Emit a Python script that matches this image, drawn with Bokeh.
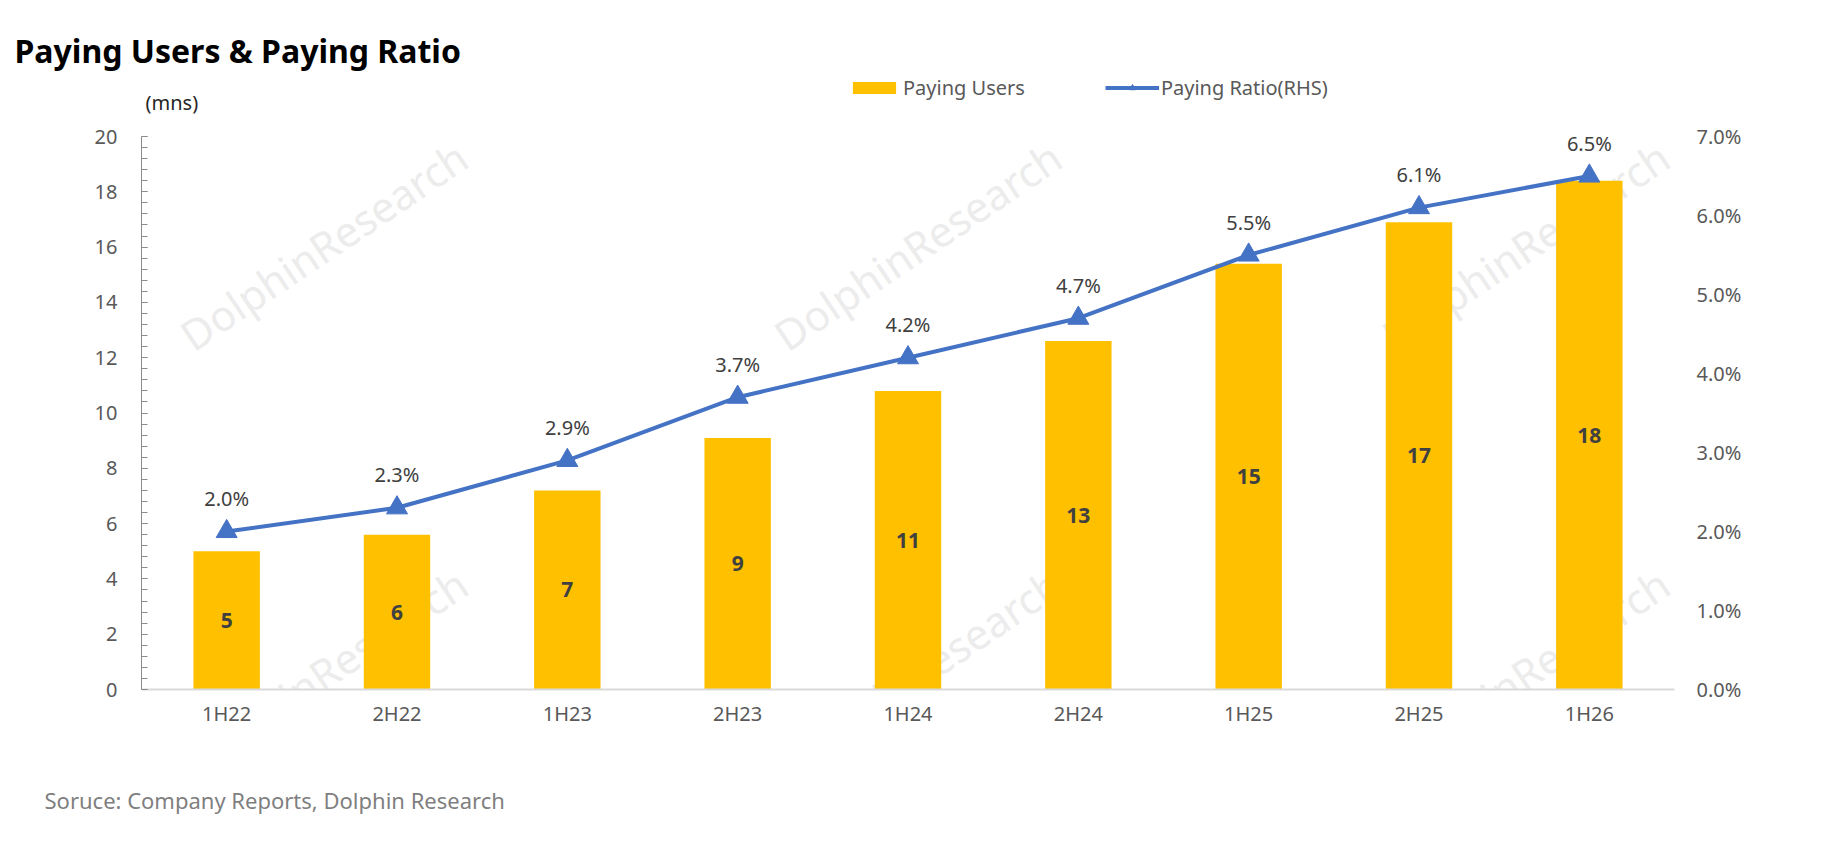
from bokeh.plotting import figure
from bokeh.embed import file_html
from bokeh.resources import INLINE
from bokeh.models import (ColumnDataSource, FactorRange, Range1d, LinearAxis,
                          SingleIntervalTicker, PrintfTickFormatter, Label,
                          Legend, LegendItem, Title)
from bokeh.core.properties import value

periods = ["1H22", "2H22", "1H23", "2H23", "1H24", "2H24", "1H25", "2H25", "1H26"]
paying_users = [5.0, 5.6, 7.2, 9.1, 10.8, 12.6, 15.4, 16.9, 18.4]   # mns
paying_ratio = [2.0, 2.3, 2.9, 3.7, 4.2, 4.7, 5.5, 6.1, 6.5]        # %
users_max, ratio_max = 20, 7

FONT = "Noto Sans"
W, H = 1808, 844
LEFT, RIGHT, TOP, BOTTOM = 141, 134, 72, 155
AXIS_TOP = 136          # where the value axes end (figure px)
BAR = "#FFC000"
LINE = "#4472C4"

# the frame reaches above the axes so the legend can sit inside it
stretch = (H - BOTTOM - TOP) / (H - BOTTOM - AXIS_TOP)


# frame-relative screen units from figure px
def sx(x):
    return x - LEFT


def sy(y):
    return (H - BOTTOM) - y


src = ColumnDataSource(dict(
    period=periods,
    users=paying_users,
    mid=[u / 2 for u in paying_users],
    users_lbl=[f"{u:.0f}" for u in paying_users],
    ratio=paying_ratio,
    ratio_lbl=[f"{r:.1f}%" for r in paying_ratio],
))

p = figure(width=W, height=H, x_range=FactorRange(factors=periods, range_padding=0),
           y_range=Range1d(0, users_max * stretch), output_backend="svg",
           toolbar_location=None, title_location=None,
           min_border_left=LEFT, min_border_right=RIGHT, min_border_top=TOP,
           min_border_bottom=BOTTOM)
p.extra_y_ranges = {"right": Range1d(0, ratio_max * stretch)}
p.outline_line_color = None
p.xgrid.visible = False
p.ygrid.visible = False
p.background_fill_color = "white"
p.border_fill_color = "white"

# left axis
ya = p.yaxis[0]
ya.bounds = (0, users_max)
ya.ticker = SingleIntervalTicker(interval=2, num_minor_ticks=5)
ya.axis_line_color = "#8c8c8c"
ya.major_tick_line_color = "#8c8c8c"
ya.minor_tick_line_color = "#8c8c8c"
ya.major_tick_in = 6
ya.major_tick_out = 0
ya.minor_tick_in = 6
ya.minor_tick_out = 0
ya.major_label_standoff = 24
ya.major_label_text_font = FONT
ya.major_label_text_font_size = "20px"
ya.major_label_text_color = "#595959"

# right axis
ra = LinearAxis(y_range_name="right", ticker=SingleIntervalTicker(interval=1),
                formatter=PrintfTickFormatter(format="%.1f%%"), bounds=(0, ratio_max))
ra.axis_line_color = None
ra.major_tick_line_color = None
ra.minor_tick_line_color = None
ra.major_tick_out = 0
ra.major_label_standoff = 18
ra.major_label_text_font = FONT
ra.major_label_text_font_size = "20px"
ra.major_label_text_color = "#595959"
p.add_layout(ra, "right")

# bottom axis
xa = p.xaxis[0]
xa.axis_line_color = "#d9d9d9"
xa.axis_line_width = 2
xa.major_tick_line_color = None
xa.minor_tick_line_color = None
xa.major_label_standoff = 4
xa.major_label_text_font = FONT
xa.major_label_text_font_size = "20px"
xa.major_label_text_color = "#595959"

# watermarks
for cx, cy in [(323, 245), (917, 245), (1525, 245), (323, 672), (917, 672), (1525, 672)]:
    p.add_layout(Label(x=sx(cx), y=sy(cy), x_units="screen", y_units="screen",
                       text="DolphinResearch", angle=34, angle_units="deg",
                       text_align="center", text_baseline="middle",
                       text_font=FONT, text_font_size="42px", text_color="#ececec",
                       level="underlay"))

bars = p.vbar(x="period", top="users", width=0.39, source=src,
              fill_color=BAR, line_color=None)
p.text(x="period", y="mid", text="users_lbl", source=src,
       text_align="center", text_baseline="middle",
       text_font=value(FONT), text_font_style="bold",
       text_font_size="21px", text_color="#404040")

line = p.line(x="period", y="ratio", source=src, y_range_name="right",
              line_color=LINE, line_width=4)
pts = p.scatter(x="period", y="ratio", source=src, y_range_name="right",
                marker="triangle", size=21, fill_color=LINE, line_color=LINE)
p.text(x="period", y="ratio", text="ratio_lbl", source=src, y_range_name="right",
       y_offset=-33, text_align="center", text_baseline="middle",
       text_font=value(FONT), text_font_size="20px", text_color="#404040")

# a tuple location puts the legend's lower-left corner there
legend = Legend(items=[LegendItem(label="Paying Users", renderers=[bars]),
                       LegendItem(label="Paying Ratio(RHS)", renderers=[line, pts])],
                orientation="horizontal", location=(sx(847), sy(101)),
                glyph_width=54, glyph_height=15, label_standoff=2, spacing=80,
                padding=0, margin=0, border_line_color=None,
                background_fill_alpha=0,
                label_text_font=FONT, label_text_font_size="20px",
                label_text_color="#595959")
p.add_layout(legend)

p.add_layout(Label(x=sx(145), y=sy(102), x_units="screen", y_units="screen",
                   text="(mns)", text_baseline="middle",
                   text_font=FONT, text_font_size="20px", text_color="#262626"))

p.add_layout(Title(text="Paying Users & Paying Ratio", align="left", offset=14 - LEFT,
                   text_font=FONT, text_font_size="32px", text_font_style="bold",
                   text_color="black", standoff=2), "above")

# blank spacer under the axis, then the source note
p.add_layout(Title(text=" ", text_font_size="10px", standoff=30), "below")
p.add_layout(Title(text="Soruce: Company Reports, Dolphin Research", align="left",
                   offset=44 - LEFT, text_font=FONT, text_font_size="22px",
                   text_font_style="normal", text_color="#7f7f7f", standoff=20), "below")

open("out.html", "w").write(file_html(p, INLINE))
